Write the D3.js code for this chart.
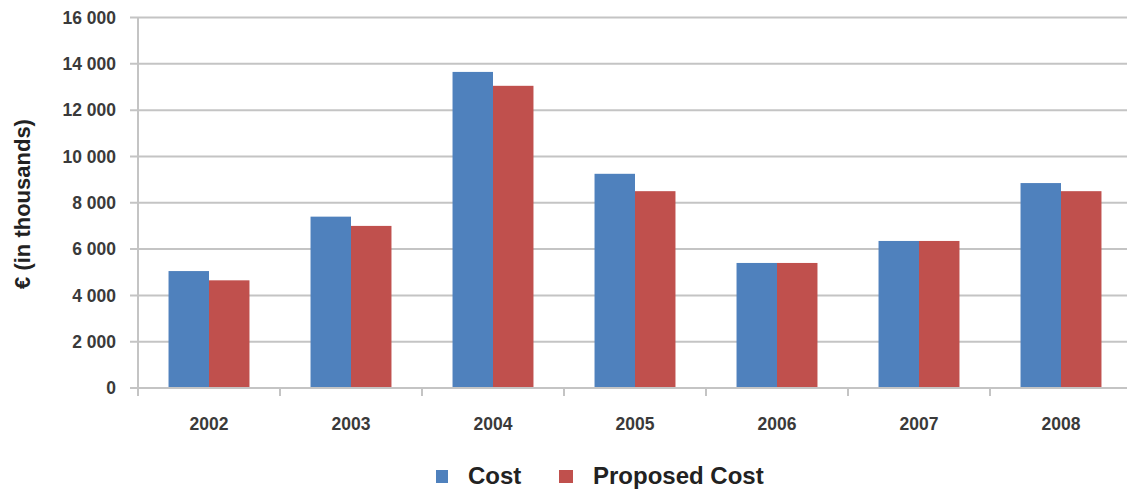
<!DOCTYPE html>
<html>
<head>
<meta charset="utf-8">
<script src="https://cdn.jsdelivr.net/npm/d3@7"></script>
<style>
  body { margin: 0; background: #fff; }
  svg text { font-family: "Liberation Sans", Arial, sans-serif; }
</style>
</head>
<body>
<div id="chart"></div>
<script>
const years = ["2002", "2003", "2004", "2005", "2006", "2007", "2008"];
const cost = [5050, 7400, 13650, 9250, 5400, 6350, 8850];
const proposedCost = [4650, 7000, 13050, 8500, 5400, 6350, 8500];
const seriesNames = ["Cost", "Proposed Cost"];
const yTicks = [0, 2000, 4000, 6000, 8000, 10000, 12000, 14000, 16000];

const width = 1127, height = 492;
const colors = ["#4f81bd", "#c0504d"];
const plot = {left: 138, right: 1132, top: 17.5, bottom: 388};

const svg = d3.select("#chart").append("svg")
    .attr("width", width)
    .attr("height", height);

const x = d3.scaleBand()
    .domain(years)
    .range([plot.left, plot.right])
    .paddingInner(0.43)
    .paddingOuter(0.215);

const xSeries = d3.scaleBand()
    .domain(seriesNames)
    .range([0, x.bandwidth()]);

const y = d3.scaleLinear()
    .domain([0, 16000])
    .range([plot.bottom, plot.top]);

const fmt = v => d3.format(",")(v).replace(",", " ");

// gridlines
svg.append("g")
    .selectAll("line")
    .data(yTicks)
    .join("line")
    .attr("x1", plot.left - 8)
    .attr("x2", plot.right)
    .attr("y1", d => y(d))
    .attr("y2", d => y(d))
    .attr("stroke", "#c4c4c4")
    .attr("stroke-width", 2);

// y axis line
svg.append("line")
    .attr("x1", plot.left).attr("x2", plot.left)
    .attr("y1", plot.top).attr("y2", plot.bottom)
    .attr("stroke", "#c4c4c4")
    .attr("stroke-width", 2);

// y tick labels
svg.append("g")
    .selectAll("text")
    .data(yTicks)
    .join("text")
    .attr("x", 116)
    .attr("y", d => y(d))
    .attr("dy", "0.35em")
    .attr("text-anchor", "end")
    .attr("font-size", 17.5)
    .attr("font-weight", "bold")
    .attr("fill", "#3a3a3a")
    .text(fmt);

// bars
const data = years.map((yr, i) => ({year: yr, values: [cost[i], proposedCost[i]]}));
svg.append("g")
    .selectAll("g")
    .data(data)
    .join("g")
    .attr("transform", d => `translate(${x(d.year)},0)`)
    .selectAll("rect")
    .data(d => d.values.map((v, j) => ({name: seriesNames[j], value: v, idx: j})))
    .join("rect")
    .attr("x", d => xSeries(d.name))
    .attr("width", xSeries.bandwidth())
    .attr("y", d => y(d.value))
    .attr("height", d => y(0) - y(d.value))
    .attr("fill", d => colors[d.idx]);

// x axis line and category ticks
svg.append("line")
    .attr("x1", plot.left).attr("x2", plot.right)
    .attr("y1", plot.bottom).attr("y2", plot.bottom)
    .attr("stroke", "#c4c4c4")
    .attr("stroke-width", 2);

const step = x.step();
svg.append("g")
    .selectAll("line")
    .data(d3.range(years.length + 1))
    .join("line")
    .attr("x1", i => plot.left + i * step)
    .attr("x2", i => plot.left + i * step)
    .attr("y1", plot.bottom)
    .attr("y2", plot.bottom + 8)
    .attr("stroke", "#c4c4c4")
    .attr("stroke-width", 2);

// x labels
svg.append("g")
    .selectAll("text")
    .data(years)
    .join("text")
    .attr("x", d => x(d) + x.bandwidth() / 2)
    .attr("y", 424)
    .attr("dy", "0.35em")
    .attr("text-anchor", "middle")
    .attr("font-size", 17.5)
    .attr("font-weight", "bold")
    .attr("fill", "#3a3a3a")
    .text(d => d);

// y axis title
svg.append("text")
    .attr("transform", "translate(30,204) rotate(-90)")
    .attr("text-anchor", "middle")
    .attr("font-size", 22)
    .attr("font-weight", "bold")
    .attr("fill", "#222")
    .text("€ (in thousands)");

// legend
const legendX = [436, 559];
const legend = svg.append("g")
    .selectAll("g")
    .data(seriesNames)
    .join("g")
    .attr("transform", (d, i) => `translate(${legendX[i]},476)`);

legend.append("rect")
    .attr("y", -6)
    .attr("width", (d, i) => i === 0 ? 12 : 14)
    .attr("height", 13)
    .attr("fill", (d, i) => colors[i]);

legend.append("text")
    .attr("x", (d, i) => i === 0 ? 32 : 34)
    .attr("y", 0)
    .attr("dy", "0.35em")
    .attr("font-size", 24)
    .attr("font-weight", "bold")
    .attr("fill", "#222")
    .text(d => d);
</script>
</body>
</html>
